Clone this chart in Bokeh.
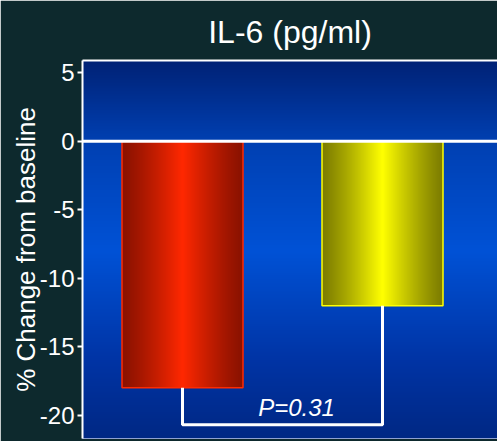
import numpy as np
from bokeh.plotting import figure
from bokeh.models import Range1d, FixedTicker, Span, LinearAxis
from bokeh.core.properties import value
from bokeh.embed import file_html
from bokeh.resources import INLINE

# ---- data ----
title_text = "IL-6 (pg/ml)"
y_label = "% Change from baseline"
bar_positions = [1, 2]
bar_values = [-18.0, -12.0]
y_ticks = [-20, -15, -10, -5, 0, 5]
y_tick_labels = ["-20", "-15", "-10", "-5", "0", "5"]
p_label = "P=0.31"
bracket_level = -20.7

# ---- style ----
FONT = "Liberation Sans"
BG = "#0d292d"
bar_width = 0.605
bar_edge_colors = [(138, 18, 0), (125, 125, 0)]
bar_center_colors = [(255, 40, 0), (255, 255, 0)]
bar_line_colors = ["#ff2a00", "#ffff00"]
y_start, y_end = -21.7, 5.9
x_start, x_end = 0.5, 2.575


def rgba_img(rgb_rows):
    arr = np.asarray(rgb_rows, dtype=np.uint8)
    h, w, _ = arr.shape
    out = np.empty((h, w), dtype=np.uint32)
    view = out.view(dtype=np.uint8).reshape((h, w, 4))
    view[:, :, :3] = arr
    view[:, :, 3] = 255
    return out


p = figure(width=497, height=441, output_backend="svg", toolbar_location=None,
           x_range=Range1d(x_start, x_end), y_range=Range1d(y_start, y_end),
           min_border_left=82, min_border_right=0, min_border_bottom=3,
           min_border_top=5)
p.background_fill_color = "#003090"
p.border_fill_color = BG
p.outline_line_color = None
p.grid.visible = False

# background vertical gradient
nb = 400
ys = np.linspace(y_start, y_end, nb)
stops_v = [y_start, -16, -8, 0, y_end]
stops_g = [40, 52, 82, 64, 34]
stops_b = [132, 165, 214, 178, 118]
bg = np.zeros((nb, 1, 3))
bg[:, 0, 1] = np.interp(ys, stops_v, stops_g)
bg[:, 0, 2] = np.interp(ys, stops_v, stops_b)
p.image_rgba(image=[rgba_img(bg)], x=x_start, y=y_start,
             dw=x_end - x_start, dh=y_end - y_start)

# zero line
p.add_layout(Span(location=0, dimension="width", line_color="white", line_width=3))

# bars with horizontal gradient
ns = 240
t = (np.arange(ns) + 0.5) / ns
k = np.clip(1 - np.abs(t - 0.5) * 2, 0, 1) ** 1.2
for xc, v, ec, cc in zip(bar_positions, bar_values, bar_edge_colors, bar_center_colors):
    ec = np.array(ec, float)
    cc = np.array(cc, float)
    row = ec[None, :] + (cc - ec)[None, :] * k[:, None]
    p.image_rgba(image=[rgba_img(row[None, :, :])], x=xc - bar_width / 2, y=v,
                 dw=bar_width, dh=-v)

p.vbar(x=bar_positions, top=0, bottom=bar_values, width=bar_width,
       fill_alpha=0, line_color=bar_line_colors, line_width=1.5)

# significance bracket
bx = [bar_positions[0], bar_positions[0], bar_positions[1], bar_positions[1]]
by = [bar_values[0], bracket_level, bracket_level, bar_values[1]]
p.line(bx, by, line_color="white", line_width=3)
p.text(x=[(bar_positions[0] + bar_positions[1]) / 2 + 0.07], y=[bracket_level], text=[p_label],
       text_color="white", text_font=value(FONT), text_font_size="24px",
       text_font_style="italic", text_align="center", text_baseline="bottom", y_offset=-4)

# axes
ya = p.yaxis[0]
ya.ticker = FixedTicker(ticks=y_ticks)
ya.major_label_overrides = {t_: l_ for t_, l_ in zip(y_ticks, y_tick_labels)}
ya.axis_line_color = "white"
ya.axis_line_width = 2
ya.major_tick_line_color = "white"
ya.major_tick_line_width = 2
ya.major_tick_out = 5
ya.major_tick_in = 0
ya.minor_tick_line_color = None
ya.major_label_text_color = "white"
ya.major_label_text_font = FONT
ya.major_label_text_font_size = "24px"
ya.major_label_standoff = 3
ya.axis_label = y_label
ya.axis_label_text_color = "white"
ya.axis_label_text_font = FONT
ya.axis_label_text_font_size = "26px"
ya.axis_label_text_font_style = "normal"
ya.axis_label_standoff = -4

xa = p.xaxis[0]
xa.ticker = FixedTicker(ticks=[])
xa.axis_line_color = "#8ea0d0"
xa.axis_line_width = 1
xa.major_label_text_font_size = "0px"
xa.major_tick_line_color = None
xa.minor_tick_line_color = None

top_axis = LinearAxis(ticker=FixedTicker(ticks=[]), axis_line_color="white", axis_line_width=2,
                      major_label_text_font_size="0px", major_tick_line_color=None,
                      minor_tick_line_color=None)
p.add_layout(top_axis, "above")

p.title.text = title_text
p.title.text_color = "white"
p.title.text_font = FONT
p.title.text_font_size = "32px"
p.title.text_font_style = "normal"
p.title.align = "center"
p.title.standoff = 22

open("out.html", "w").write(file_html(p, INLINE))
